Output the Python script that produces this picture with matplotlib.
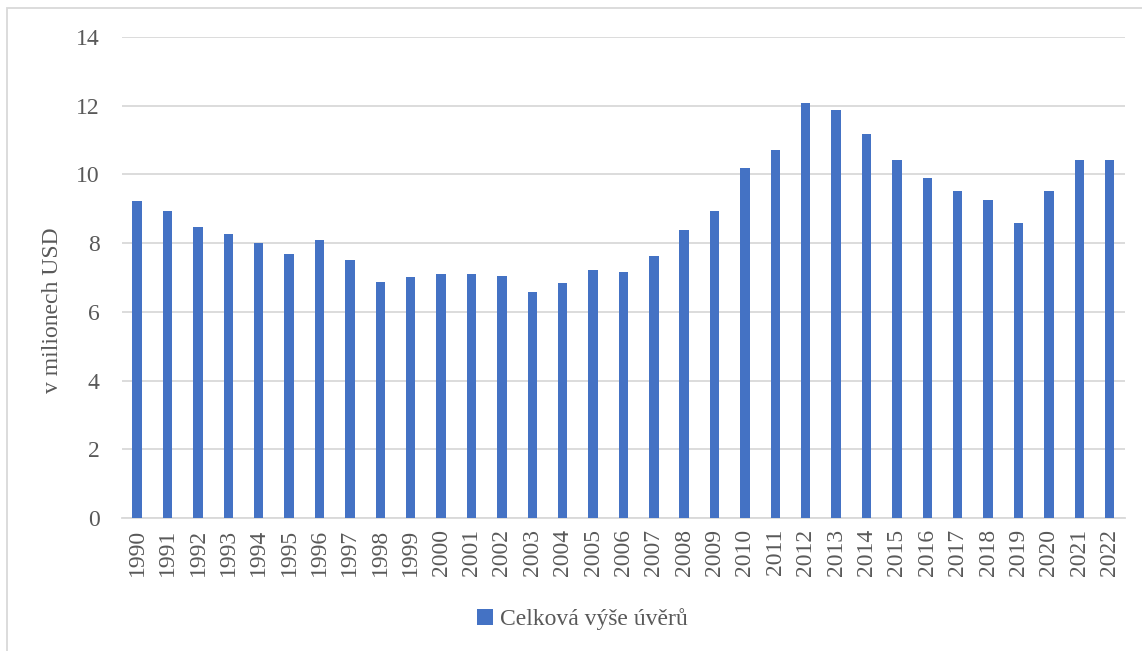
import matplotlib.pyplot as plt
from matplotlib.patches import Rectangle
import numpy as np

years = [str(y) for y in range(1990, 2023)]
loans = [9.22, 8.93, 8.47, 8.26, 8.00, 7.69, 8.08, 7.50, 6.86, 7.02,
         7.11, 7.10, 7.05, 6.58, 6.83, 7.23, 7.17, 7.63, 8.37, 8.94,
         10.19, 10.71, 12.07, 11.88, 11.18, 10.41, 9.89, 9.52, 9.26, 8.58,
         9.51, 10.43, 10.43]
y_ticks = [0, 2, 4, 6, 8, 10, 12, 14]

plt.rcParams['font.family'] = ['Liberation Serif', 'DejaVu Serif']
text_color = '#595959'
bar_color = '#4472C4'

fig = plt.figure(figsize=(11.42, 6.51), dpi=100)
ax = fig.add_axes([0.1068, 0.2043, 0.8782, 0.7389])

x = np.arange(len(years))
ax.bar(x, loans, width=0.31, color=bar_color, label='Celková výše úvěrů', zorder=3)

ax.set_xlim(-0.5, len(years) - 0.5)
ax.set_ylim(0, 14)
ax.set_yticks(y_ticks)
ax.set_xticks(x)
ax.set_xticklabels(years, rotation=90)
ax.grid(axis='y', color='#d9d9d9', linewidth=1.3, zorder=0)
for s in ['top', 'right', 'left']:
    ax.spines[s].set_visible(False)
ax.spines['bottom'].set_color('#d9d9d9')
ax.spines['bottom'].set_linewidth(1.3)
ax.tick_params(axis='both', length=0, labelsize=17, colors=text_color)
ax.tick_params(axis='y', pad=16)
ax.tick_params(axis='x', pad=8)

ax.set_ylabel('v milionech USD', fontsize=17, color=text_color)
ax.yaxis.set_label_coords(-0.059, 0.432)

ax.legend(loc='center', bbox_to_anchor=(0.459, -0.21), frameon=False,
          fontsize=17, labelcolor=text_color, handlelength=0.65,
          handleheight=0.65, handletextpad=0.3)

fig.patches.append(Rectangle((7 / 1142, -0.01), 1.5, 1 - 8 / 651 + 0.01,
                             transform=fig.transFigure, fill=False,
                             edgecolor='#d9d9d9', linewidth=1.3))

fig.savefig('out.png', dpi=100)
